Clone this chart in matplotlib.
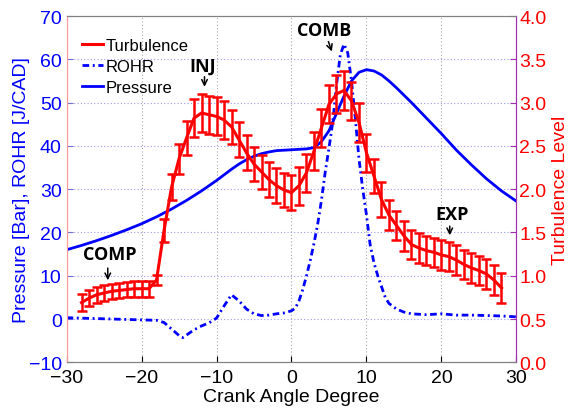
import numpy as np
import matplotlib
matplotlib.use("Agg")
import matplotlib.pyplot as plt
from matplotlib.ticker import FormatStrFormatter

plt.rcParams['font.family'] = ['Liberation Sans', 'DejaVu Sans']

# ---- turbulence level (mean and error) at each crank angle ----
turb_cad = list(range(-28, 29))
turb_mean = [0.69, 0.74, 0.78, 0.80, 0.82, 0.83, 0.84, 0.85, 0.85, 0.85,
             0.95, 1.52, 2.02, 2.35, 2.59, 2.82, 2.88, 2.86, 2.84, 2.80,
             2.72, 2.57, 2.42, 2.29, 2.20, 2.11, 2.04, 1.99, 1.96, 2.04,
             2.19, 2.44, 2.71, 2.98, 3.10, 3.14, 3.02, 2.77, 2.42, 2.15,
             1.88, 1.70, 1.58, 1.46, 1.36, 1.32, 1.29, 1.27, 1.24, 1.22,
             1.18, 1.13, 1.09, 1.06, 1.02, 0.95, 0.86]
turb_err = [0.10, 0.09, 0.09, 0.09, 0.09, 0.09, 0.09, 0.09, 0.09, 0.09,
            0.06, 0.13, 0.15, 0.17, 0.20, 0.22, 0.22, 0.22, 0.22, 0.22,
            0.20, 0.20, 0.20, 0.20, 0.20, 0.20, 0.20, 0.20, 0.20, 0.22,
            0.22, 0.22, 0.22, 0.22, 0.22, 0.22, 0.22, 0.22, 0.22, 0.20,
            0.20, 0.17, 0.17, 0.17, 0.17, 0.17, 0.17, 0.17, 0.17, 0.17,
            0.17, 0.17, 0.17, 0.17, 0.17, 0.17, 0.17]

# ---- in-cylinder pressure [bar] ----
p_cad = [-30, -28, -26, -24, -22, -20, -18, -16, -14, -12, -10, -9, -8, -7,
         -6, -5, -4, -3, -2, -1, 0, 1, 2, 3, 4, 5, 6, 7, 8, 9, 10, 11, 12,
         13, 14, 16, 18, 20, 22, 24, 26, 28, 30]
pressure = [16.0, 17.0, 18.1, 19.3, 20.6, 22.0, 23.6, 25.4, 27.4, 29.6, 32.0,
            33.3, 34.6, 35.8, 36.8, 37.6, 38.2, 38.6, 38.9, 39.0, 39.1, 39.2,
            39.3, 39.6, 41.0, 43.5, 47.5, 51.5, 55.0, 57.0, 57.6, 57.3, 56.4,
            55.0, 53.4, 50.0, 46.4, 42.8, 39.0, 35.6, 32.4, 29.6, 27.2]

# ---- rate of heat release [J/CAD] ----
r_cad = [-30, -28, -26, -24, -22, -20, -18, -17, -16, -15, -14.5, -14, -13,
         -12, -11, -10, -9, -8, -7, -6, -5, -4, -3, -2, -1, 0, 0.5, 1, 1.5,
         2, 2.5, 3, 3.5, 4, 4.5, 5, 5.5, 6, 6.5, 7, 7.5, 8, 8.5, 9, 9.5, 10,
         10.5, 11, 11.5, 12, 12.5, 13, 14, 15, 16, 18, 20, 22, 24, 26, 28, 30]
rohr = [0.3, 0.2, 0.1, 0.0, -0.1, -0.2, -0.3, -0.8, -2.3, -3.8, -4.3, -3.7,
        -2.5, -1.6, -0.9, 0.2, 3.0, 5.6, 4.2, 2.3, 1.2, 0.8, 0.9, 1.2, 1.4,
        1.9, 2.5, 4.2, 6.8, 10.0, 13.5, 17.5, 22.0, 27.5, 34.0, 39.5, 45.5,
        54.0, 61.0, 63.5, 61.5, 55.0, 46.5, 37.0, 30.0, 24.0, 17.0, 13.0,
        10.0, 7.5, 5.0, 3.6, 2.3, 1.6, 1.2, 1.0, 1.2, 0.9, 0.9, 0.8, 0.7, 0.5]

# ---- phase labels: (text, x, y of text, arrow tail, arrow tip) ----
phases = [("COMP", -24.3, 15.0, (-24.5, 12.4), (-24.5, 8.3)),
          ("INJ", -11.8, 58.5, (-11.6, 56.6), (-11.6, 53.0)),
          ("COMB", 4.4, 66.8, (4.8, 64.7), (5.5, 61.2)),
          ("EXP", 21.35, 24.2, (21.1, 22.1), (21.1, 18.7))]

x_ticks = [-30, -20, -10, 0, 10, 20, 30]
left_ticks = [-10, 0, 10, 20, 30, 40, 50, 60, 70]
right_ticks = [0.0, 0.5, 1.0, 1.5, 2.0, 2.5, 3.0, 3.5, 4.0]

BLUE = '#0000ff'
RED = '#ff0000'

fig = plt.figure(figsize=(5.69, 4.10), dpi=100)
ax = fig.add_axes([0.1169, 0.1139, 0.7908, 0.8446])
ax2 = ax.twinx()

# left axis: pressure and heat release
ln_p, = ax.plot(p_cad, pressure, color=BLUE, lw=2.0, zorder=3)
ln_r, = ax.plot(r_cad, rohr, color=BLUE, lw=2.0, dashes=(2.4, 1.3, 0.7, 1.3),
                zorder=3)

ax.set_xlim(-30, 30)
ax.set_ylim(-10, 70)
ax.set_xticks(x_ticks)
ax.set_yticks(left_ticks)
ax.tick_params(axis='y', colors=BLUE, labelsize=14, direction='in', length=4)
ax.tick_params(axis='x', colors='black', labelsize=14, direction='in', length=4,
               pad=5)
ax.set_xlabel("Crank Angle Degree", fontsize=14, labelpad=1)
ax.set_ylabel("Pressure [Bar], ROHR [J/CAD]", fontsize=14, color=BLUE,
              labelpad=-1)

# grid: vertical grey, horizontal bluish
for xv in x_ticks[1:-1]:
    ax.axvline(xv, color='#a8a8a8', lw=0.8, ls=(0, (1, 2)), zorder=1)
for yv in left_ticks[1:-1]:
    ax.axhline(yv, color='#9c9cf0', lw=0.8, ls=(0, (1, 2)), zorder=1)

# right axis: turbulence level with error bars
ln_t, = ax2.plot(turb_cad, turb_mean, color=RED, lw=2.2, zorder=4)
ax2.errorbar(turb_cad, turb_mean, yerr=turb_err, fmt='none', ecolor=RED,
             elinewidth=1.8, capsize=3.4, capthick=1.8, zorder=4)
ax2.set_ylim(0, 4)
ax2.set_yticks(right_ticks)
ax2.yaxis.set_major_formatter(FormatStrFormatter('%.1f'))
ax2.tick_params(axis='y', colors=RED, labelsize=14, direction='in', length=4,
                pad=2)
ax2.tick_params(axis='y', which='major', color='#a030b0')
ax2.set_ylabel("Turbulence Level", fontsize=14, color=RED, labelpad=4)

# spines
for a in (ax, ax2):
    a.spines['top'].set_color('#808080')
    a.spines['bottom'].set_color('#808080')
    a.spines['left'].set_color('#ff9a9a')
    a.spines['right'].set_color('#a030b0')
ax.tick_params(axis='y', which='major', color='#7070d0')

# phase annotations
to_right = ax.transData + ax2.transData.inverted()
for txt, tx, ty, tail, tip in phases:
    ax2.annotate("", xy=to_right.transform(tip),
                 xytext=to_right.transform(tail),
                 arrowprops=dict(arrowstyle='->', color='black', lw=1.1,
                                 mutation_scale=10), zorder=6)
    tpos = to_right.transform((tx, ty))
    ax2.text(tpos[0], tpos[1], txt, ha='center', va='center', fontsize=13,
             fontweight='bold', family=['Open Sans', 'DejaVu Sans'], zorder=6)

leg = ax2.legend([ln_t, ln_r, ln_p], ["Turbulence", "ROHR", "Pressure"],
                 loc='upper left', bbox_to_anchor=(0.034, 0.936),
                 frameon=False, fontsize=12, handlelength=1.25,
                 handletextpad=0.2, labelspacing=0.36, borderpad=0,
                 borderaxespad=0)

fig.savefig("out.png", dpi=100)
